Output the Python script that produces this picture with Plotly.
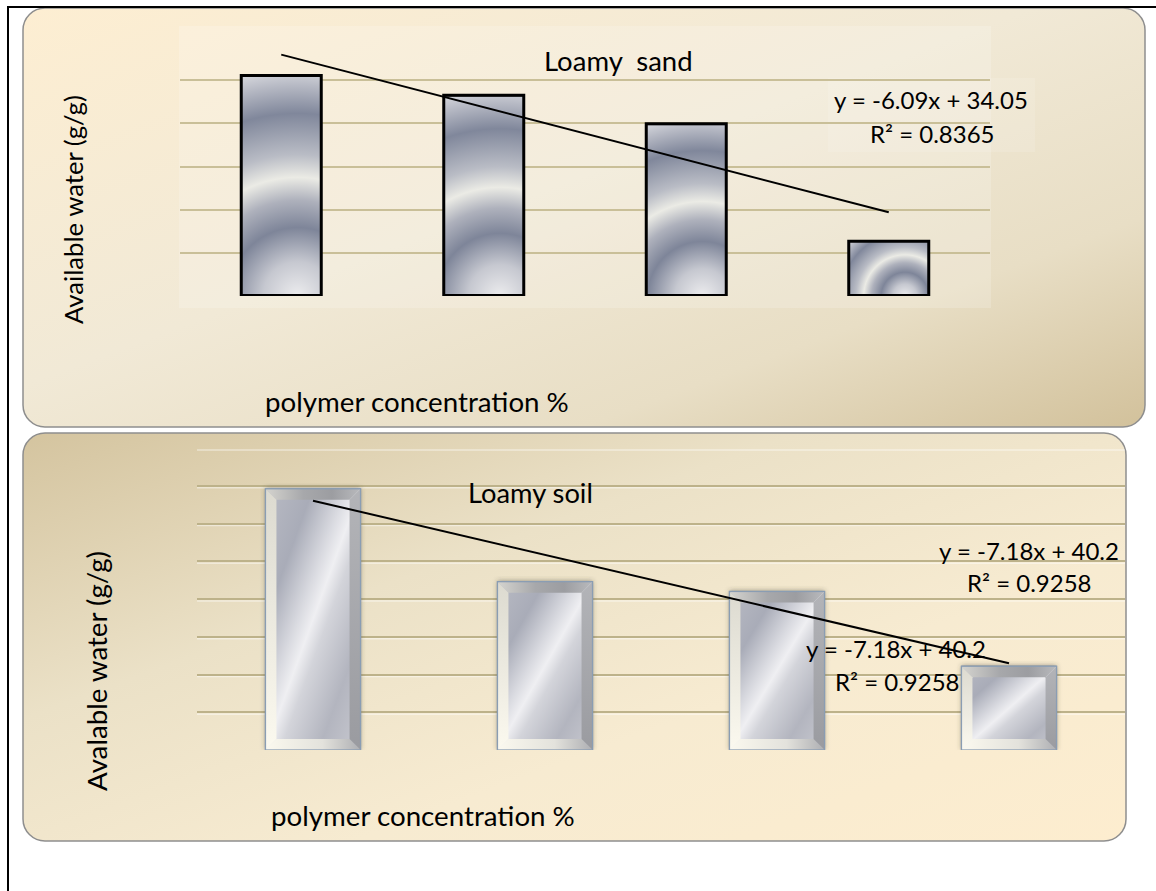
import base64
import plotly.graph_objects as go

# ---------------------------------------------------------------- data
# polymer concentration levels (positions along the x axis, no tick labels shown)
levels = [1, 2, 3, 4]

# available water (g/g)
sand_water = [25.6, 23.3, 20.0, 6.4]
soil_water = [34.6, 22.3, 21.0, 11.1]

# linear trend lines printed on each panel: [slope, intercept]
sand_trend = [-6.09, 34.05]
sand_r2 = 0.8365
soil_trend = [-7.18, 40.2]
soil_r2 = 0.9258

panel_titles = ["Loamy  sand", "Loamy soil"]
y_titles = ["Available water (g/g)", "Avalable water (g/g)"]
x_title = "polymer concentration %"

# ---------------------------------------------------------------- geometry
W, H = 1156, 891
FONT = "Lato"

# plot rectangles in pixels (left, right, top, bottom)
P1 = (180, 990, 37, 296)
P2 = (197, 1125, 448, 750)
X_RANGE = [0.5, 4.5]
Y1_RANGE = [0, 30]
Y2_RANGE = [0, 40]
BAR_W1 = 0.40
BAR_W2 = 0.41


def fx(px):
    return px / W


def fy(py):
    return 1 - py / H


def uri(svg):
    return "data:image/svg+xml;base64," + base64.b64encode(svg.encode("utf-8")).decode("ascii")


def stops(items):
    return "".join(f'<stop offset="{o}" stop-color="{c}"/>' for o, c in items)


# ---------------------------------------------------------------- skins
def metal_skin(w, h):
    """Brushed-metal bar face with concentric bands and a black frame."""
    cx, cy = 0.7 * w, h
    r = (cx ** 2 + h ** 2) ** 0.5
    g = stops([(0, "#ececee"), (0.15, "#c6c8d0"), (0.30, "#7e8599"), (0.42, "#aeb1bc"),
               (0.52, "#ebebe5"), (0.62, "#b9bcc5"), (0.80, "#80879b"), (0.92, "#b5b8c3"),
               (1, "#d9dadf")])
    return (f'<svg xmlns="http://www.w3.org/2000/svg" width="{w:.2f}" height="{h:.2f}" '
            f'viewBox="0 0 {w:.2f} {h:.2f}" preserveAspectRatio="none"><defs>'
            f'<radialGradient id="m" gradientUnits="userSpaceOnUse" cx="{cx:.2f}" cy="{cy:.2f}" r="{r:.2f}">{g}</radialGradient>'
            f'</defs><rect x="1" y="1" width="{w - 2:.2f}" height="{h - 2:.2f}" fill="url(#m)" '
            f'stroke="#000" stroke-width="2"/></svg>')


def bevel_skin(w, h, p, b=11):
    """Bevelled silver bar with soft shadow; p is the shadow padding in px."""
    Wd, Hd = w + 2 * p, h + p
    x0, y0, x1, y1 = p, p, p + w, p + h
    face = stops([(0, "#b9bbc4"), (0.25, "#a9acb8"), (0.42, "#d9dae0"), (0.5, "#efeff2"),
                  (0.58, "#d3d4da"), (0.78, "#b3b5bf"), (1, "#c8c9d0")])
    top = stops([(0, "#d5d4cf"), (0.4, "#a7a8ab"), (0.7, "#9c9da1"), (1, "#b9babd")])
    left = stops([(0, "#dcdad0"), (1, "#fbf9ef")])
    bottom = stops([(0, "#fbf9ef"), (0.6, "#e3e2dc"), (1, "#aeafb3")])
    right = stops([(0, "#b3b4b8"), (1, "#9a9ba0")])
    return (
        f'<svg xmlns="http://www.w3.org/2000/svg" width="{Wd:.2f}" height="{Hd:.2f}" '
        f'viewBox="0 0 {Wd:.2f} {Hd:.2f}" preserveAspectRatio="none"><defs>'
        f'<filter id="s" x="-30%" y="-30%" width="160%" height="160%"><feGaussianBlur stdDeviation="2.5"/></filter>'
        f'<linearGradient id="f" x1="0" y1="0" x2="1" y2="1">{face}</linearGradient>'
        f'<linearGradient id="t" x1="0" y1="0" x2="1" y2="0">{top}</linearGradient>'
        f'<linearGradient id="l" x1="0" y1="0" x2="0" y2="1">{left}</linearGradient>'
        f'<linearGradient id="b" x1="0" y1="0" x2="1" y2="0">{bottom}</linearGradient>'
        f'<linearGradient id="r" x1="0" y1="0" x2="0" y2="1">{right}</linearGradient>'
        f'</defs>'
        f'<rect x="{x0:.2f}" y="{y0 - 1:.2f}" width="{w:.2f}" height="{h + 1:.2f}" fill="#3a3a30" fill-opacity="0.45" filter="url(#s)"/>'
        f'<rect x="{x0:.2f}" y="{y0:.2f}" width="{w:.2f}" height="{h:.2f}" fill="url(#f)"/>'
        f'<polygon points="{x0},{y0} {x1},{y0} {x1 - b},{y0 + b} {x0 + b},{y0 + b}" fill="url(#t)"/>'
        f'<polygon points="{x0},{y0} {x0 + b},{y0 + b} {x0 + b},{y1 - b} {x0},{y1}" fill="url(#l)"/>'
        f'<polygon points="{x0},{y1} {x0 + b},{y1 - b} {x1 - b},{y1 - b} {x1},{y1}" fill="url(#b)"/>'
        f'<polygon points="{x1},{y0} {x1},{y1} {x1 - b},{y1 - b} {x1 - b},{y0 + b}" fill="url(#r)"/>'
        f'<rect x="{x0:.2f}" y="{y0:.2f}" width="{w:.2f}" height="{h:.2f}" fill="none" stroke="#8a9db3" stroke-width="1.3"/>'
        f'</svg>')


background = f'''<svg xmlns="http://www.w3.org/2000/svg" width="{W}" height="{H}" viewBox="0 0 {W} {H}">
<defs>
<linearGradient id="p1" x1="0" y1="0" x2="1" y2="1">
{stops([(0, "#fdeed2"), (0.45, "#f1e9d6"), (0.75, "#e8dec5"), (1, "#d2c19b")])}
</linearGradient>
<linearGradient id="p2" x1="0" y1="0" x2="1" y2="1">
{stops([(0, "#d4c49f"), (0.35, "#ebe1c7"), (0.65, "#f7ebd1"), (1, "#fdedcf")])}
</linearGradient>
</defs>
<rect width="{W}" height="{H}" fill="#ffffff"/>
<rect x="23" y="8" width="1122" height="419" rx="22" fill="url(#p1)" stroke="#8e8e8e" stroke-width="1.5"/>
<rect x="179" y="26" width="812" height="282" fill="#ffffff" fill-opacity="0.18"/>
<rect x="828" y="78" width="207" height="74" fill="#ffffff" fill-opacity="0.12"/>
<rect x="23" y="433" width="1103" height="408" rx="22" fill="url(#p2)" stroke="#8e8e8e" stroke-width="1.5"/>
<line x1="7" y1="7" x2="{W}" y2="7" stroke="#000" stroke-width="2"/>
<line x1="8" y1="6" x2="8" y2="{H}" stroke="#000" stroke-width="2"/>
</svg>'''

# ---------------------------------------------------------------- figure
fig = go.Figure()

fig.add_trace(go.Bar(x=levels, y=sand_water, width=BAR_W1, xaxis="x", yaxis="y",
                     marker=dict(color="#a4a8b5", line=dict(color="#000", width=2)),
                     name="Loamy sand", hoverinfo="skip"))
fig.add_trace(go.Bar(x=levels, y=soil_water, width=BAR_W2, xaxis="x2", yaxis="y2",
                     marker=dict(color="#c6c7cc", line=dict(color="#8a9db3", width=1)),
                     name="Loamy soil", hoverinfo="skip"))

images = [dict(source=uri(background), xref="paper", yref="paper", x=0, y=1,
               sizex=1, sizey=1, xanchor="left", yanchor="top", sizing="stretch", layer="below")]

# pixels per data unit on each panel
px1_x = (P1[1] - P1[0]) / (X_RANGE[1] - X_RANGE[0])
px1_y = (P1[3] - P1[2]) / (Y1_RANGE[1] - Y1_RANGE[0])
px2_x = (P2[1] - P2[0]) / (X_RANGE[1] - X_RANGE[0])
px2_y = (P2[3] - P2[2]) / (Y2_RANGE[1] - Y2_RANGE[0])

for lv, val in zip(levels, sand_water):
    images.append(dict(source=uri(metal_skin(BAR_W1 * px1_x, val * px1_y)),
                       xref="x", yref="y", x=lv - BAR_W1 / 2, y=val, sizex=BAR_W1, sizey=val,
                       xanchor="left", yanchor="top", sizing="stretch", layer="above"))

PAD = 6
for lv, val in zip(levels, soil_water):
    dx, dy = PAD / px2_x, PAD / px2_y
    images.append(dict(source=uri(bevel_skin(BAR_W2 * px2_x, val * px2_y, PAD)),
                       xref="x2", yref="y2", x=lv - BAR_W2 / 2 - dx, y=val + dy,
                       sizex=BAR_W2 + 2 * dx, sizey=val + dy,
                       xanchor="left", yanchor="top", sizing="stretch", layer="above"))

shapes = []
# trend lines from the printed equations, spanning the first to the last level
for (slope, icpt), xr, yr in [(sand_trend, "x", "y"), (soil_trend, "x2", "y2")]:
    xa, xb = levels[0], levels[-1]
    shapes.append(dict(type="line", xref=xr, yref=yr, x0=xa, y0=slope * xa + icpt,
                       x1=xb, y1=slope * xb + icpt, line=dict(color="#000", width=2), layer="above"))

# faint embossed highlight under the lower panel's grid lines
for v in range(0, Y2_RANGE[1] + 1, 5):
    shapes.append(dict(type="line", xref="x2 domain", yref="y2", ysizemode="pixel", yanchor=v,
                       x0=0, x1=1, y0=-2, y1=-2, line=dict(color="rgba(255,255,255,0.45)", width=1.5),
                       layer="below"))


def note(text, px, py, size, angle=0):
    return dict(text=text, x=fx(px), y=fy(py), xref="paper", yref="paper", showarrow=False,
                xanchor="center", yanchor="middle", textangle=angle,
                font=dict(family=FONT, size=size, color="#000"))


annotations = [
    note(panel_titles[0].replace("  ", " \u00a0"), 618, 60, 27.5),
    note(f"y = {sand_trend[0]}x + {sand_trend[1]}", 931, 99, 24),
    note(f"R² = {sand_r2}", 932, 133, 24),
    note(y_titles[0], 73, 210, 25.7, -90),
    note(x_title, 417, 402, 27.7),
    note(panel_titles[1], 530, 492, 27.3),
    note(f"y = {soil_trend[0]}x + {soil_trend[1]}", 1029, 550, 24),
    note(f"R² = {soil_r2}", 1029, 582, 24),
    note(f"y = {soil_trend[0]}x + {soil_trend[1]}", 896, 648, 24),
    note(f"R² = {soil_r2}", 897, 681, 24),
    note(y_titles[1], 96, 671, 27.7, -90),
    note(x_title, 423, 815, 27.7),
]

hidden_x = dict(range=X_RANGE, showgrid=False, zeroline=False, showline=False,
                showticklabels=False, ticks="", fixedrange=True)

fig.update_layout(
    width=W, height=H, margin=dict(l=0, r=0, t=0, b=0),
    paper_bgcolor="#ffffff", plot_bgcolor="rgba(0,0,0,0)",
    showlegend=False, hovermode=False, barmode="overlay",
    xaxis=dict(hidden_x, domain=[fx(P1[0]), fx(P1[1])], anchor="y"),
    yaxis=dict(range=Y1_RANGE, domain=[fy(P1[3]), fy(P1[2])], anchor="x", dtick=5, tick0=0,
               showgrid=True, gridcolor="#c9bf98", gridwidth=2, zeroline=False, showline=False,
               showticklabels=False, ticks="", fixedrange=True),
    xaxis2=dict(hidden_x, domain=[fx(P2[0]), fx(P2[1])], anchor="y2"),
    yaxis2=dict(range=Y2_RANGE, domain=[fy(P2[3]), fy(P2[2])], anchor="x2", dtick=5, tick0=0,
                showgrid=True, gridcolor="#bdb28a", gridwidth=2, zeroline=False, showline=False,
                showticklabels=False, ticks="", fixedrange=True),
    images=images, shapes=shapes, annotations=annotations,
)

fig.write_html("out.html", config={"displayModeBar": False})
